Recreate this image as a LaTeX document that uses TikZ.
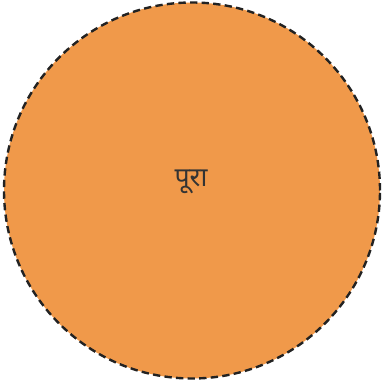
\documentclass[tikz,border=0pt]{standalone}
\usepackage{fontspec}
\newfontfamily\devafont[Script=Devanagari]{Noto Sans}
\usepackage{tikz}
\definecolor{wholeorange}{RGB}{240, 153, 74}
\definecolor{edgegrey}{RGB}{34, 34, 34}
\definecolor{labelgrey}{RGB}{51, 51, 51}

\begin{document}
\begin{tikzpicture}[
    x=0.75pt, y=0.75pt,
    whole/.style={circle, draw=edgegrey, fill=wholeorange, line width=1.8pt,
                  dash pattern=on 5.5pt off 3.2pt, minimum size=376*0.75pt,
                  inner sep=0pt},
    lbl/.style={font=\devafont\fontsize{20}{22}\selectfont, text=labelgrey}
]
    \useasboundingbox (0,0) rectangle (382,385);
    \node[whole] (full) at (192,194.5) {};
    \node[lbl] (fulltext) at (191,203) {पूरा};
\end{tikzpicture}
\end{document}
